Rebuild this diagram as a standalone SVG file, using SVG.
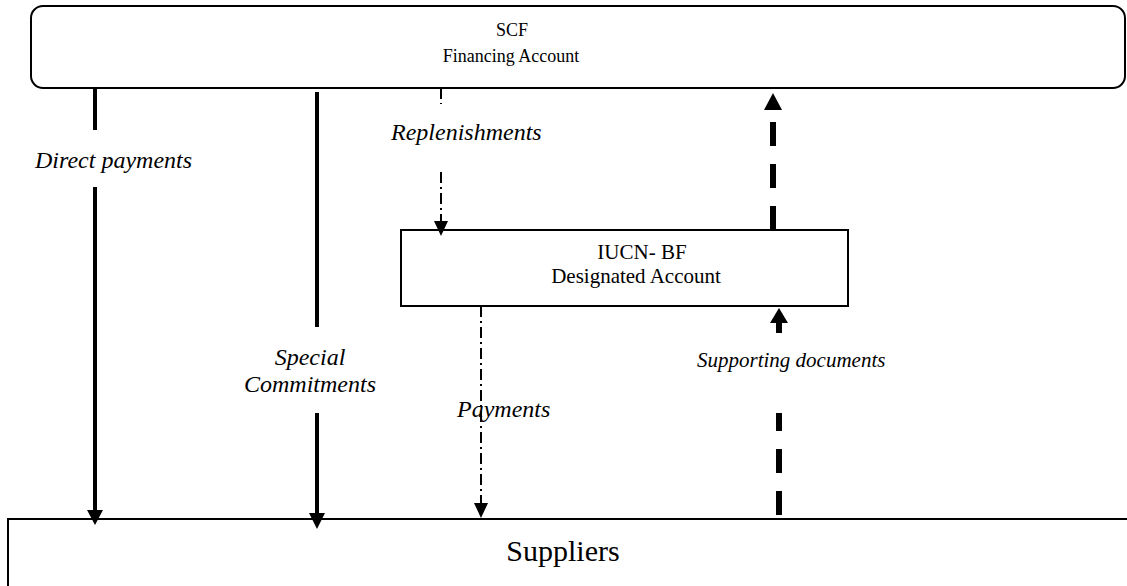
<svg xmlns="http://www.w3.org/2000/svg" width="1127" height="586" viewBox="0 0 1127 586">
<style>
.box{fill:#fff;stroke:#000;stroke-width:2}
.bt{font-family:"Liberation Serif","Times New Roman",serif;font-size:18px;fill:#000;text-anchor:middle}
.lbl{font-family:"Liberation Serif","Times New Roman",serif;font-style:italic;font-size:24px;fill:#000}
.solid{stroke:#000;stroke-width:4;fill:none}
.dd{stroke:#000;stroke-width:2;fill:none;stroke-dasharray:11 4 2 4}
.dash{stroke:#000;stroke-width:6;fill:none;stroke-dasharray:24 18}
.ah{fill:#000}
</style>
<rect width="1127" height="586" fill="#fff"/>
<g id="scf">
<rect class="box" x="31" y="6" width="1094" height="82" rx="12"/>
<text class="bt" x="512" y="36">SCF</text>
<text class="bt" x="511" y="62">Financing Account</text>
</g>
<g id="iucn">
<rect class="box" x="401" y="230" width="447" height="76"/>
<text class="bt" x="642" y="259" style="font-size:21px">IUCN- BF</text>
<text class="bt" x="636" y="283" style="font-size:21px">Designated Account</text>
</g>
<g id="suppliers">
<rect class="box" x="8" y="519" width="1130" height="100"/>
<text class="bt" x="563" y="561" style="font-size:30px">Suppliers</text>
</g>
<g id="connectors">
<line class="solid" x1="95" y1="88" x2="95" y2="130"/>
<line class="solid" x1="95" y1="187" x2="95" y2="512"/>
<polygon class="ah" points="87,510 103,510 95,525"/>
<line class="solid" x1="317" y1="92" x2="317" y2="327"/>
<line class="solid" x1="317" y1="413" x2="317" y2="515"/>
<polygon class="ah" points="309,513 325,513 317,529"/>
<line class="dd" x1="441" y1="88" x2="441" y2="104"/>
<line class="dd" x1="441" y1="172" x2="441" y2="222"/>
<polygon class="ah" points="434,221 448,221 441,236"/>
<line class="dd" x1="481" y1="306" x2="481" y2="505"/>
<polygon class="ah" points="474,503 488,503 481,518"/>
<line class="dash" x1="773" y1="230" x2="773" y2="112"/>
<polygon class="ah" points="764,110 782,110 773,93"/>
<line class="dash" x1="779" y1="515" x2="779" y2="413"/>
<line style="stroke:#000;stroke-width:6" x1="779" y1="333" x2="779" y2="321"/>
<polygon class="ah" points="770,323 788,323 779,308"/>
</g>
<g id="labels">
<text class="lbl" x="35" y="168">Direct payments</text>
<text class="lbl" x="391" y="140">Replenishments</text>
<text class="lbl" x="310" y="365" text-anchor="middle">Special</text>
<text class="lbl" x="310" y="392" text-anchor="middle">Commitments</text>
<text class="lbl" x="457" y="417">Payments</text>
<text class="lbl" x="697" y="367" style="font-size:21px">Supporting documents</text>
</g>
</svg>
